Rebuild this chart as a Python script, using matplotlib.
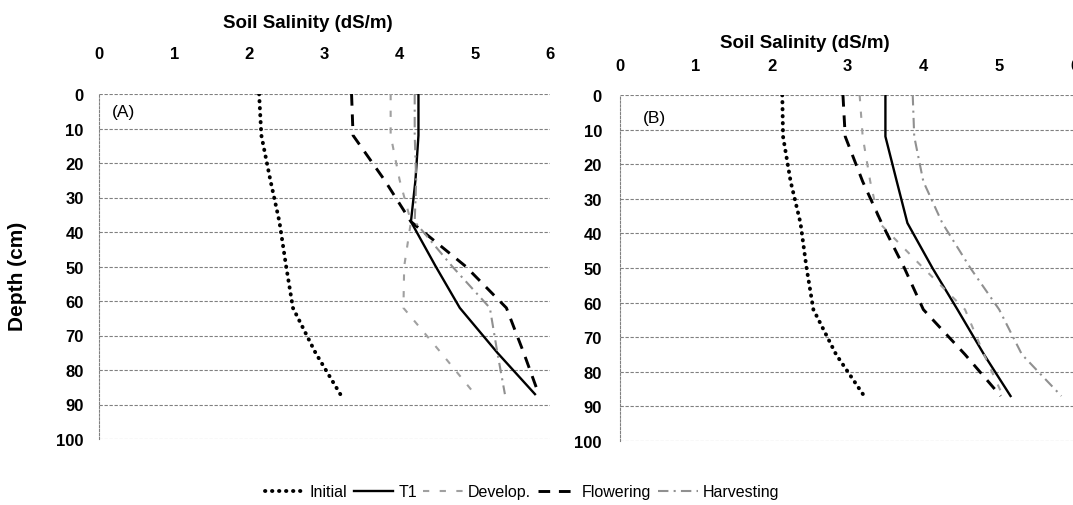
import matplotlib
matplotlib.use('Agg')
import matplotlib.pyplot as plt

plt.rcParams['font.family'] = ['Liberation Sans', 'DejaVu Sans']

# sampling depths (cm)
depths = [0, 12, 25, 37, 50, 62, 75, 87]

# panel A salinity (dS/m)
a_initial = [2.13, 2.16, 2.28, 2.40, 2.49, 2.58, 2.88, 3.21]
a_t1 = [4.25, 4.25, 4.21, 4.15, 4.48, 4.80, 5.30, 5.80]
a_develop = [3.88, 3.88, 4.00, 4.15, 4.06, 4.05, 4.55, 5.00]
a_flowering = [3.36, 3.38, 3.80, 4.15, 4.88, 5.42, 5.65, 5.85]
a_harvesting = [4.20, 4.20, 4.22, 4.20, 4.70, 5.20, 5.30, 5.40]

# panel B salinity (dS/m)
b_initial = [2.14, 2.15, 2.25, 2.38, 2.46, 2.55, 2.85, 3.22]
b_t1 = [3.50, 3.50, 3.65, 3.79, 4.12, 4.45, 4.80, 5.15]
b_develop = [3.16, 3.20, 3.30, 3.42, 4.00, 4.55, 4.80, 5.05]
b_flowering = [2.94, 2.97, 3.20, 3.45, 3.75, 4.00, 4.55, 5.02]
b_harvesting = [3.86, 3.88, 4.00, 4.25, 4.62, 5.00, 5.30, 5.82]

labels = ['Initial', 'T1', 'Develop.', 'Flowering', 'Harvesting']
styles = [
    dict(color='black', lw=2.8, linestyle=(0, (0.1, 1.7)), dash_capstyle='round'),
    dict(color='black', lw=1.7, linestyle='-'),
    dict(color='#a0a0a0', lw=1.5, linestyle=(0, (3, 5))),
    dict(color='black', lw=2.1, linestyle=(0, (4, 3))),
    dict(color='#909090', lw=1.5, linestyle=(0, (5, 2.5, 1, 2.5))),
]

W, H = 1073, 506
fig = plt.figure(figsize=(W / 100, H / 100), dpi=100)

ax_a = fig.add_axes([99 / W, 1 - 440 / H, 451 / W, 345 / H])
ax_b = fig.add_axes([620 / W, 1 - 442 / H, 455 / W, 346 / H])

panels = [
    (ax_a, [a_initial, a_t1, a_develop, a_flowering, a_harvesting], '(A)', 0.32, 5.2, 24, 11),
    (ax_b, [b_initial, b_t1, b_develop, b_flowering, b_harvesting], '(B)', 0.45, 6.4, 16, 13),
]

for ax, series, tag, tx, ty, xpad, ypad in panels:
    for vals, lab, st in zip(series, labels, styles):
        ax.plot(vals, depths, label=lab, **st)
    ax.set_xlim(0, 6)
    ax.set_ylim(100, 0)
    ax.set_xticks(range(0, 7))
    ax.set_yticks(range(0, 101, 10))
    ax.xaxis.tick_top()
    ax.tick_params(axis='x', length=0, pad=xpad, labelsize=12)
    ax.tick_params(axis='y', length=0, pad=ypad, labelsize=12)
    for t in ax.get_xticklabels() + ax.get_yticklabels():
        t.set_fontweight('bold')
    ax.grid(axis='y', color='#808080', lw=0.8, linestyle=(0, (3, 1.5)))
    ax.set_axisbelow(True)
    for s in ['top', 'right', 'bottom']:
        ax.spines[s].set_visible(False)
    ax.spines['left'].set_color('#808080')
    ax.spines['left'].set_linewidth(0.8)
    ax.spines['left'].set_linestyle((0, (2, 1.5)))
    ax.text(tx, ty, tag, fontsize=12.5, va='center', ha='center')

fig.text(308 / W, 1 - 24 / H, 'Soil Salinity (dS/m)', ha='center', va='center',
         fontsize=13.5, fontweight='bold')
fig.text(805 / W, 1 - 44 / H, 'Soil Salinity (dS/m)', ha='center', va='center',
         fontsize=13.5, fontweight='bold')
fig.text(18 / W, 1 - 276 / H, 'Depth (cm)', rotation=90, ha='center', va='center',
         fontsize=15, fontweight='bold')

handles, labs = ax_a.get_legend_handles_labels()
fig.legend(handles, labs, loc='center', bbox_to_anchor=(522 / W, 1 - 493 / H), ncol=5,
           frameon=False, fontsize=11.5, handlelength=2.5, columnspacing=0.4,
           handletextpad=0.3)

fig.savefig('out.png', dpi=100)
